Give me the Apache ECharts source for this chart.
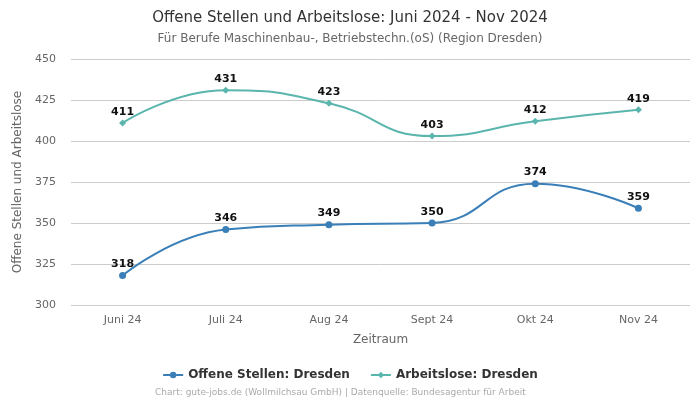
<!DOCTYPE html>
<html><head><meta charset="utf-8">
<script src="https://cdn.jsdelivr.net/npm/echarts@6/dist/echarts.min.js"></script>
<style>html,body{margin:0;padding:0;background:#fff}#c{width:700px;height:400px}</style>
</head><body><div id="c"></div>
<script>
const categories = ["Juni 24", "Juli 24", "Aug 24", "Sept 24", "Okt 24", "Nov 24"];
const offeneStellen = [318, 346, 349, 350, 374, 359];
const arbeitslose = [411, 431, 423, 403, 412, 419];
const yTicks = [300, 325, 350, 375, 400, 425, 450];

const font = "DejaVu Sans";
const chart = echarts.init(document.getElementById('c'), null, {renderer: 'canvas'});
chart.setOption({
  animation: false,
  textStyle: {fontFamily: font},
  title: {
    text: "Offene Stellen und Arbeitslose: Juni 2024 - Nov 2024",
    subtext: "Für Berufe Maschinenbau-, Betriebstechn.(oS) (Region Dresden)",
    left: 'center', top: 6,
    textStyle: {fontFamily: font, fontSize: 15, fontWeight: 'normal', color: '#333'},
    subtextStyle: {fontFamily: font, fontSize: 12, color: '#666'},
    itemGap: 7
  },
  grid: {left: 71, right: 10, top: 59, bottom: 95},
  legend: {
    bottom: 14, left: 'center', itemGap: 20, itemWidth: 20, itemHeight: 8,
    textStyle: {fontFamily: font, fontSize: 12, fontWeight: 'bold', color: '#333'},
    data: ["Offene Stellen: Dresden", "Arbeitslose: Dresden"]
  },
  graphic: [{
    type: 'text', left: 155, bottom: 3,
    style: {text: "Chart: gute-jobs.de (Wollmilchsau GmbH) | Datenquelle: Bundesagentur für Arbeit",
      fill: '#aaa', font: '9px DejaVu Sans'}
  }],
  xAxis: {
    type: 'category', data: categories, boundaryGap: true,
    name: 'Zeitraum', nameLocation: 'middle', nameGap: 29,
    nameTextStyle: {fontFamily: font, fontSize: 12, color: '#666'},
    axisLine: {show: false}, axisTick: {show: false},
    axisLabel: {fontFamily: font, fontSize: 11, color: '#666', margin: 10}
  },
  yAxis: {
    type: 'value', min: yTicks[0], max: yTicks[yTicks.length-1], interval: 25,
    name: 'Offene Stellen und Arbeitslose', nameLocation: 'middle', nameGap: 44,
    nameTextStyle: {fontFamily: font, fontSize: 12, color: '#666'},
    axisLabel: {fontFamily: font, fontSize: 11, color: '#666', margin: 15},
    splitLine: {lineStyle: {color: '#ccc'}}
  },
  series: [{
    name: "Offene Stellen: Dresden", type: 'line', data: offeneStellen, smooth: true,
    symbol: 'circle', symbolSize: 7, color: '#3a7fb8',
    lineStyle: {width: 2},
    label: {show: true, position: 'top', fontFamily: font, fontSize: 11, fontWeight: 'bold', color: '#111', distance: 2}
  }, {
    name: "Arbeitslose: Dresden", type: 'line', data: arbeitslose, smooth: true,
    symbol: 'diamond', symbolSize: 7, color: '#5ab5ad',
    lineStyle: {width: 2},
    label: {show: true, position: 'top', fontFamily: font, fontSize: 11, fontWeight: 'bold', color: '#111', distance: 2}
  }]
});
</script></body></html>
